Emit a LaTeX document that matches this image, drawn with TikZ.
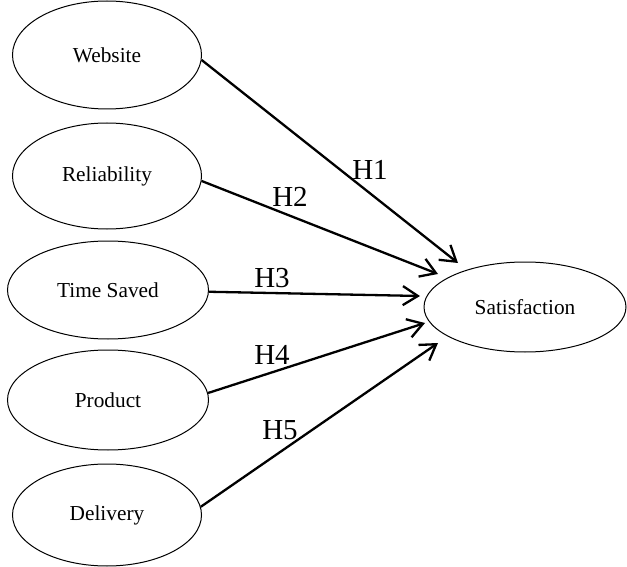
\documentclass[tikz,border=0pt]{standalone}
\usepackage{fontspec}
\setmainfont{Liberation Serif}
\usetikzlibrary{shapes.geometric,arrows.meta}
\begin{document}
\begin{tikzpicture}[x=1pt,y=-1pt,
  construct/.style={ellipse,draw,line width=1pt,inner sep=0pt,
    font=\fontsize{21.3}{25}\selectfont},
  path/.style={line width=2.3pt,-{Straight Barb[length=15pt,width=19pt,line width=2.3pt]}},
  hyp/.style={font=\fontsize{29}{33}\selectfont,inner sep=0pt}]
\useasboundingbox (0,0) rectangle (627,567);

% latent constructs
\node[construct,minimum width=189pt,minimum height=108pt] (web)  at (107,55)  {Website};
\node[construct,minimum width=189pt,minimum height=106pt] (rel)  at (107,176) {Reliability};
\node[construct,minimum width=201pt,minimum height=98pt]  (time) at (108,290) {Time Saved};
\node[construct,minimum width=201pt,minimum height=100pt] (prod) at (108,400) {Product};
\node[construct,minimum width=189pt,minimum height=102pt] (del)  at (107,515) {Delivery};
\node[construct,minimum width=202pt,minimum height=90pt]  (sat)  at (525,307) {Satisfaction};

% arrow tips stop short of the outcome construct
\coordinate (t1) at (458,263);
\coordinate (t2) at (438,274);
\coordinate (t3) at (420,296);
\coordinate (t4) at (425,323);
\coordinate (t5) at (438,343);

% hypothesised paths
\draw[path] (web.-3)  -- (t1);
\draw[path] (rel.-3)  -- (t2);
\draw[path] (time.-1) -- (t3);
\draw[path] (prod.4)  -- (t4);
\draw[path] (del.5)   -- (t5);

% hypothesis labels
\node[hyp] (h1) at (370,170) {H1};
\node[hyp] (h2) at (290,197) {H2};
\node[hyp] (h3) at (272,278) {H3};
\node[hyp] (h4) at (272,355) {H4};
\node[hyp] (h5) at (280,430) {H5};
\end{tikzpicture}
\end{document}
